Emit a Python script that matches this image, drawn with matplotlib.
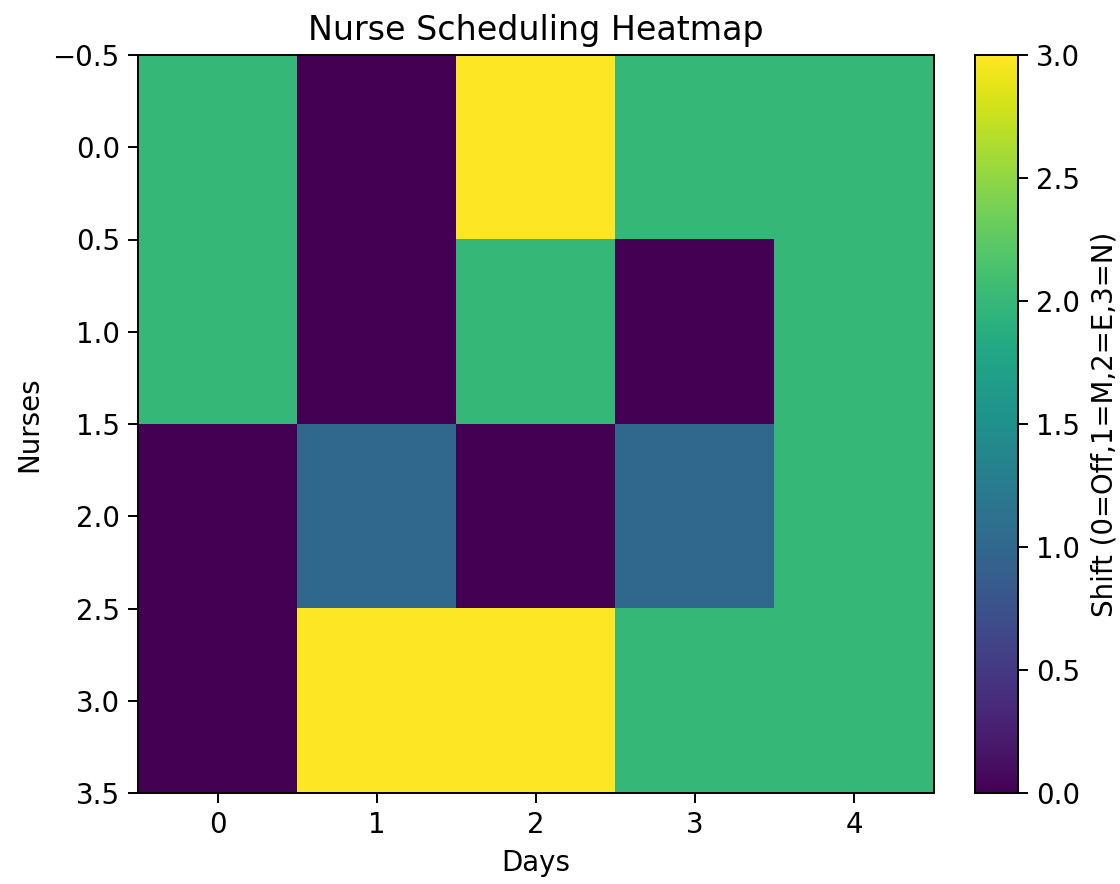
import matplotlib
matplotlib.use("Agg")
import matplotlib.pyplot as plt
import numpy as np

days = [0, 1, 2, 3, 4]
nurse_0 = [2, 0, 3, 2, 2]
nurse_1 = [2, 0, 2, 0, 2]
nurse_2 = [0, 1, 0, 1, 2]
nurse_3 = [0, 3, 3, 2, 2]

schedule = np.array([nurse_0, nurse_1, nurse_2, nurse_3])

plt.rcParams["font.size"] = 11.4
plt.rcParams["xtick.major.size"] = 4
plt.rcParams["ytick.major.size"] = 4

fig = plt.figure(figsize=(6.4, 884 / 175), dpi=175)
ax = fig.add_axes([138 / 1120, 1 - 793 / 884, (934 - 138) / 1120, (793 - 55) / 884])
cax = fig.add_axes([975 / 1120, 1 - 793 / 884, 43 / 1120, (793 - 55) / 884])

im = ax.imshow(schedule, cmap="viridis", aspect="auto", vmin=0, vmax=3)
cb = fig.colorbar(im, cax=cax)
cb.set_label("Shift (0=Off,1=M,2=E,3=N)", fontsize=11.4)
ax.set_title("Nurse Scheduling Heatmap", fontsize=13.7)
ax.set_xlabel("Days", fontsize=11.4)
ax.set_ylabel("Nurses", fontsize=11.4)
ax.set_xticks(days)
ax.set_yticks(np.arange(-0.5, 3.51, 0.5))

fig.savefig("out.png", dpi=175)
